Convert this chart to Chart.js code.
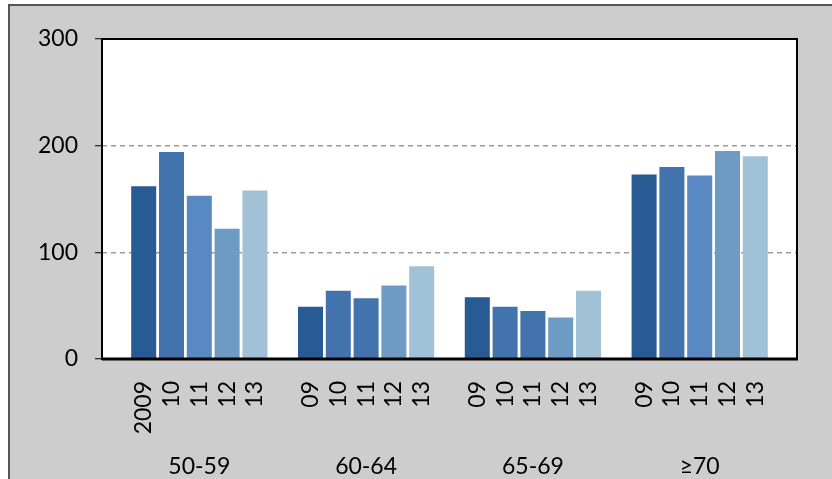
<!DOCTYPE html>
<html>
<head>
<meta charset="utf-8">
<script src="https://cdn.jsdelivr.net/npm/chart.js@4/dist/chart.umd.min.js"></script>
<style>
  body { margin: 0; background: #fff; }
  #frame {
    position: absolute; left: 8px; top: 4px; width: 840px; height: 490px;
    background: #cdcdcd; border-left: 2px solid #555; border-top: 2px solid #555;
  }
  #chart { position: absolute; left: 0; top: 0; }
</style>
</head>
<body>
<div id="frame"></div>
<canvas id="chart" width="832" height="479"></canvas>
<script>
const groups = ['50-59', '60-64', '65-69', '≥70'];
const firstYears = ['2009', '10', '11', '12', '13'];
const years = ['09', '10', '11', '12', '13'];
const yTicks = [0, 100, 200, 300];

const v5059 = [162, 194, 153, 122, 158];
const v6064 = [49, 64, 57, 69, 87];
const v6569 = [58, 49, 45, 39, 64];
const v70 = [173, 180, 172, 195, 190];

// colours of the five year bars, per group (the 11 bar is darker in the middle groups)
const c = ['#285a93', '#4273ad', '#5889c2', '#6e9bc4', '#a1c2d6'];
const groupColors = [
  [c[0], c[1], c[2], c[3], c[4]],
  [c[0], c[1], c[1], c[3], c[4]],
  [c[0], c[1], c[1], c[3], c[4]],
  [c[0], c[1], c[2], c[3], c[4]]
];

const groupValues = [v5059, v6064, v6569, v70];
const labels = [''];
const values = [null];
const colors = ['#000'];
const groupCenters = [];
groupValues.forEach((vals, g) => {
  const yl = g === 0 ? firstYears : years;
  groupCenters.push(labels.length + 2);
  vals.forEach((v, i) => {
    labels.push(yl[i]);
    values.push(v);
    colors.push(groupColors[g][i]);
  });
  labels.push('');
  values.push(null);
  colors.push('#000');
});

const FONT = 'Lato, "Open Sans", sans-serif';

const plotBox = {
  id: 'plotBox',
  beforeDraw(chart) {
    const { ctx, chartArea: a } = chart;
    ctx.save();
    ctx.fillStyle = '#fff';
    ctx.fillRect(a.left, a.top, a.right - a.left, a.bottom - a.top);
    ctx.restore();
  },
  afterDraw(chart) {
    const { ctx, chartArea: a, scales } = chart;
    ctx.save();
    ctx.strokeStyle = '#000';
    ctx.lineWidth = 2;
    ctx.strokeRect(a.left, a.top, a.right - a.left, a.bottom - a.top);
    ctx.lineWidth = 3;
    ctx.beginPath();
    ctx.moveTo(a.left, a.bottom);
    ctx.lineTo(a.right + 1, a.bottom);
    ctx.stroke();
    // group labels under the year labels
    ctx.fillStyle = '#000';
    ctx.font = '23px ' + FONT;
    ctx.textAlign = 'center';
    ctx.textBaseline = 'middle';
    groups.forEach((g, i) => {
      ctx.fillText(g, scales.x.getPixelForValue(groupCenters[i]), 467);
    });
    ctx.restore();
  }
};

new Chart(document.getElementById('chart'), {
  type: 'bar',
  data: {
    labels: labels,
    datasets: [{
      data: values,
      backgroundColor: colors,
      borderWidth: 0,
      categoryPercentage: 1,
      barPercentage: 0.9
    }]
  },
  options: {
    responsive: false,
    animation: false,
    devicePixelRatio: 1,
    layout: { padding: { top: 39, right: 35, left: 0, bottom: 0 } },
    plugins: { legend: { display: false }, tooltip: { enabled: false } },
    scales: {
      x: {
        grid: { display: false },
        border: { display: false },
        ticks: {
          autoSkip: false, minRotation: 90, maxRotation: 90,
          color: '#000', padding: 14, font: { family: FONT, size: 23 }
        },
        afterFit: s => { s.height = 120; }
      },
      y: {
        min: 0, max: 300,
        afterBuildTicks: s => { s.ticks = yTicks.map(v => ({ value: v })); },
        grid: {
          color: ctx => (ctx.tick && (ctx.tick.value === 0 || ctx.tick.value === 300)) ? 'rgba(0,0,0,0)' : '#9c9c9c',
          lineWidth: 1.5,
          tickColor: '#000',
          tickLength: 7,
          tickWidth: 1
        },
        border: { display: false, dash: [5, 4] },
        ticks: { color: '#000', padding: 17, font: { family: FONT, size: 23 } },
        afterFit: s => { s.width = 102; }
      }
    }
  },
  plugins: [plotBox]
});
</script>
</body>
</html>
